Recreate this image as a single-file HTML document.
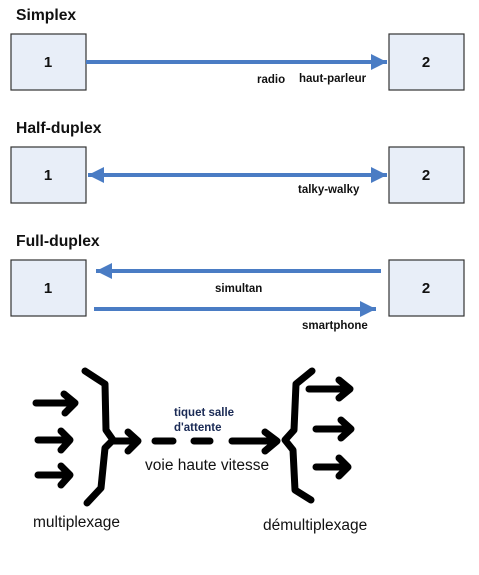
<!DOCTYPE html>
<html><head><style>body{margin:0;background:#fff;width:479px;height:570px;overflow:hidden}</style></head><body>
<svg width="479" height="570" xmlns="http://www.w3.org/2000/svg" font-family="Liberation Sans, Arial, sans-serif">
<defs>
<marker id="b" viewBox="0 0 10 10" refX="10" refY="5" markerWidth="4" markerHeight="4" orient="auto-start-reverse" markerUnits="strokeWidth"><path d="M0,0 L10,5 L0,10z" fill="#4a7cc4"/></marker>
</defs>
<g font-weight="bold" font-size="15.7" fill="#111">
<text x="16" y="20">Simplex</text>
<text x="16" y="133">Half-duplex</text>
<text x="16" y="246">Full-duplex</text>
</g>
<g fill="#e8eef8" stroke="#333" stroke-width="1.2">
<rect x="11" y="34" width="75" height="56"/><rect x="389" y="34" width="75" height="56"/>
<rect x="11" y="147" width="75" height="56"/><rect x="389" y="147" width="75" height="56"/>
<rect x="11" y="260" width="75" height="56"/><rect x="389" y="260" width="75" height="56"/>
</g>
<g font-weight="bold" font-size="15" fill="#111" text-anchor="middle">
<text x="48" y="67">1</text><text x="426" y="67">2</text>
<text x="48" y="180">1</text><text x="426" y="180">2</text>
<text x="48" y="293">1</text><text x="426" y="293">2</text>
</g>
<g stroke="#4a7cc4" stroke-width="4" fill="none">
<line x1="86" y1="62" x2="387" y2="62" marker-end="url(#b)"/>
<line x1="88" y1="175" x2="387" y2="175" marker-end="url(#b)" marker-start="url(#b)"/>
<line x1="381" y1="271" x2="96" y2="271" marker-end="url(#b)"/>
<line x1="94" y1="309" x2="376" y2="309" marker-end="url(#b)"/>
</g>
<g font-weight="bold" font-size="11.5" fill="#111">
<text x="257" y="83">radio</text><text x="299" y="82">haut-parleur</text>
<text x="298" y="193">talky-walky</text>
<text x="215" y="292">simultan</text>
<text x="302" y="329">smartphone</text>
</g>
<g stroke="#000" stroke-width="7" fill="none" stroke-linecap="round" stroke-linejoin="round">
<path d="M85,371 L105,384 L106,430 L113,440 L105,448 L101,488 L87,503"/>
<path d="M113,441 L136,441 M128,432 L138,441 L128,451"/>
<path d="M36,403 L74,403 M64,394 L75,403 L65,413"/>
<path d="M38,440 L68,440 M61,431 L70,440 L61,450"/>
<path d="M38,475 L68,475 M61,466 L70,475 L61,485"/>
<path d="M155,441 L173,441 M194,441 L210,441 M232,441 L275,441 M265,432 L277,441 L265,451"/>
<path d="M312,371 L296,384 L294,430 L285,440 L293,450 L295,490 L311,500"/>
<path d="M309,389 L348,389 M339,380 L350,389 L339,398"/>
<path d="M316,429 L350,429 M341,420 L351,429 L341,438"/>
<path d="M316,467 L346,467 M339,458 L348,467 L339,476"/>
</g>
<g font-weight="bold" font-size="11.5" fill="#1a2a55">
<text x="174" y="416">tiquet salle</text><text x="174" y="431">d'attente</text>
</g>
<g font-size="15.5" fill="#111">
<text x="145" y="470">voie haute vitesse</text>
<text x="33" y="527">multiplexage</text>
<text x="263" y="530">démultiplexage</text>
</g>
</svg>
</body></html>
